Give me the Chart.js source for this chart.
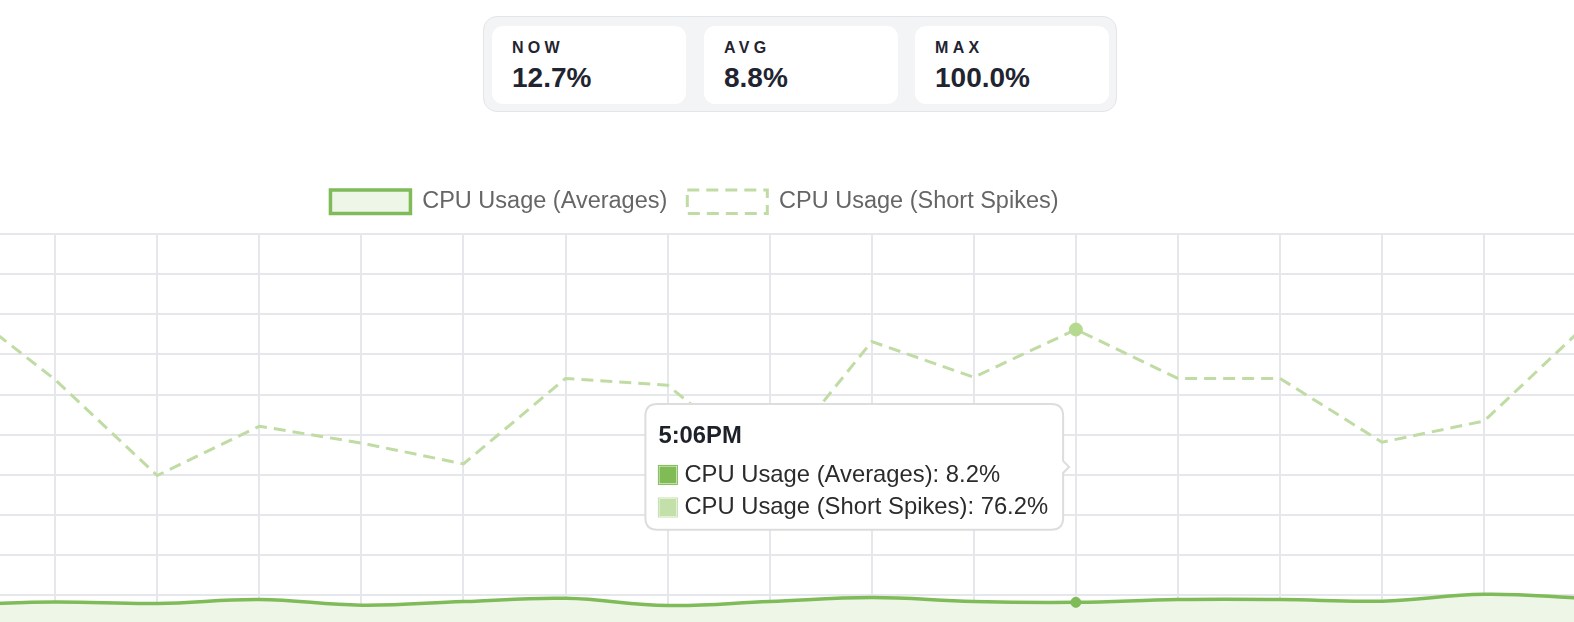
<!DOCTYPE html>
<html>
<head>
<meta charset="utf-8">
<script src="https://cdn.jsdelivr.net/npm/chart.js@4.4.1/dist/chart.umd.min.js"></script>
<style>
  html, body { margin:0; padding:0; background:#fff; overflow:hidden; width:1574px; height:622px;
    font-family:"Liberation Sans", Arial, Helvetica, sans-serif; }
  .stats { position:absolute; left:483px; top:16px; width:634px; height:96px; background:#f3f4f6;
    border:1px solid #e3e5e8; border-radius:14px; box-sizing:border-box; }
  .card { position:absolute; top:9px; width:194px; height:78px; background:#fff; border-radius:11px; }
  .lbl { position:absolute; left:20px; top:14px; font-weight:bold; font-size:16px; line-height:1;
    letter-spacing:4.3px; color:#1f2430; }
  .val { position:absolute; left:20px; top:38px; font-weight:bold; font-size:28px; line-height:1; color:#1f2430; }
  #wrap { position:absolute; left:-199px; top:170px; width:1787px; height:467px; }
</style>
</head>
<body>
<div class="stats">
  <div class="card" style="left:8px"><div class="lbl" id="l0"></div><div class="val" id="v0"></div></div>
  <div class="card" style="left:220px"><div class="lbl" id="l1"></div><div class="val" id="v1"></div></div>
  <div class="card" style="left:431px"><div class="lbl" id="l2"></div><div class="val" id="v2"></div></div>
</div>
<div id="wrap"><canvas id="c"></canvas></div>
<script>
// ---- data ----
const statLabels = ["NOW", "AVG", "MAX"];
const statValues = ["12.7%", "8.8%", "100.0%"];

const timeLabels = ["4:54PM","4:55PM","4:56PM","4:57PM","4:58PM","4:59PM","5:00PM","5:01PM","5:02PM",
                    "5:03PM","5:04PM","5:05PM","5:06PM","5:07PM","5:08PM","5:09PM","5:10PM","5:11PM"];
const averagesSeries = [7.9, 7.7, 8.3, 7.9, 8.9, 7.5, 8.4, 9.2, 7.4, 8.4, 9.4, 8.4, 8.2, 8.9, 8.9, 8.5, 10.2, 9.2];
const spikesSeries   = [70.0, 83.5, 63.7, 39.8, 52.1, 47.9, 42.7, 64.0, 62.3, 41.6, 73.2, 64.3, 76.2, 64.0, 64.0, 48.1, 53.4, 77.4];
const seriesNames = ["CPU Usage (Averages)", "CPU Usage (Short Spikes)"];
const yMin = 0, yMax = 100, yStep = 10;
const activeIndex = 12;

// ---- stats cards ----
statLabels.forEach((t, i) => {
  document.getElementById('l' + i).textContent = t;
  document.getElementById('v' + i).textContent = statValues[i];
});

// ---- chart ----
const FONT = '"Liberation Sans", Arial, Helvetica, sans-serif';
Chart.defaults.font.family = FONT;

const avgColor = '#7fbb58';
const avgFill = '#eef6e8';
const spikeColor = '#c0dca4';
const tipColors = ['#80bb55', '#c3e0ab'];
const gridColor = '#e5e7eb';

const legendGap = {
  id: 'legendGap',
  beforeInit(chart) {
    const fit = chart.legend.fit;
    chart.legend.fit = function () { fit.call(this); this.height += 10.5; };
  }
};

const chart = new Chart(document.getElementById('c'), {
  type: 'line',
  data: {
    labels: timeLabels,
    datasets: [
      {
        label: seriesNames[0], data: averagesSeries,
        borderColor: avgColor, backgroundColor: avgFill, borderWidth: 3.5,
        fill: 'origin', tension: 0.4, pointRadius: 0,
        pointHoverRadius: 5, pointHoverBorderWidth: 1,
        pointBackgroundColor: avgColor, pointBorderColor: avgColor,
        pointHoverBackgroundColor: avgColor, pointHoverBorderColor: avgColor
      },
      {
        label: seriesNames[1], data: spikesSeries,
        borderColor: spikeColor, backgroundColor: 'rgba(255,255,255,0)', borderWidth: 3,
        borderDash: [12, 7], fill: false, tension: 0, pointRadius: 0,
        pointHoverRadius: 6.5, pointHoverBorderWidth: 1,
        pointBackgroundColor: '#b5d98f', pointBorderColor: '#b5d98f',
        pointHoverBackgroundColor: '#b5d98f', pointHoverBorderColor: '#b5d98f'
      }
    ]
  },
  options: {
    responsive: true, maintainAspectRatio: false, animation: false,
    layout: { padding: 0 },
    interaction: { mode: 'index', intersect: false },
    events: [],
    scales: {
      x: {
        grid: { color: gridColor, lineWidth: 2, drawTicks: false },
        border: { display: false },
        ticks: { display: false }
      },
      y: {
        min: yMin, max: yMax,
        ticks: { display: false, stepSize: yStep },
        grid: { color: gridColor, lineWidth: 2, drawTicks: false },
        border: { display: false },
        afterFit(axis) { axis.width = 50; }
      }
    },
    plugins: {
      legend: {
        position: 'top',
        labels: { font: { family: FONT, size: 23.5 }, color: '#666', boxWidth: 80, padding: 20 }
      },
      tooltip: {
        enabled: true, position: 'average', xAlign: 'right', yAlign: 'center',
        backgroundColor: '#ffffff', borderColor: '#dddddd', borderWidth: 2, cornerRadius: 12,
        titleColor: '#1d2129', bodyColor: '#2b2b2b',
        titleFont: { family: FONT, size: 23.8, weight: 'bold' },
        bodyFont: { family: FONT, size: 23.8 },
        padding: { top: 18, bottom: 8, left: 13, right: 15 },
        titleMarginBottom: 10, bodySpacing: 4,
        caretSize: 6, caretPadding: 8,
        boxWidth: 19, boxHeight: 19, boxPadding: 5,
        callbacks: {
          label: (c) => c.dataset.label + ': ' + c.parsed.y.toFixed(1) + '%',
          labelColor: (c) => ({ borderColor: tipColors[c.datasetIndex], backgroundColor: tipColors[c.datasetIndex], borderWidth: 1 })
        }
      }
    }
  },
  plugins: [legendGap]
});

const act = [{ datasetIndex: 0, index: activeIndex }, { datasetIndex: 1, index: activeIndex }];
chart.setActiveElements(act);
const m0 = chart.getDatasetMeta(0).data[activeIndex];
chart.tooltip.setActiveElements(act, { x: m0.x, y: m0.y });
chart.update();
</script>
</body>
</html>
